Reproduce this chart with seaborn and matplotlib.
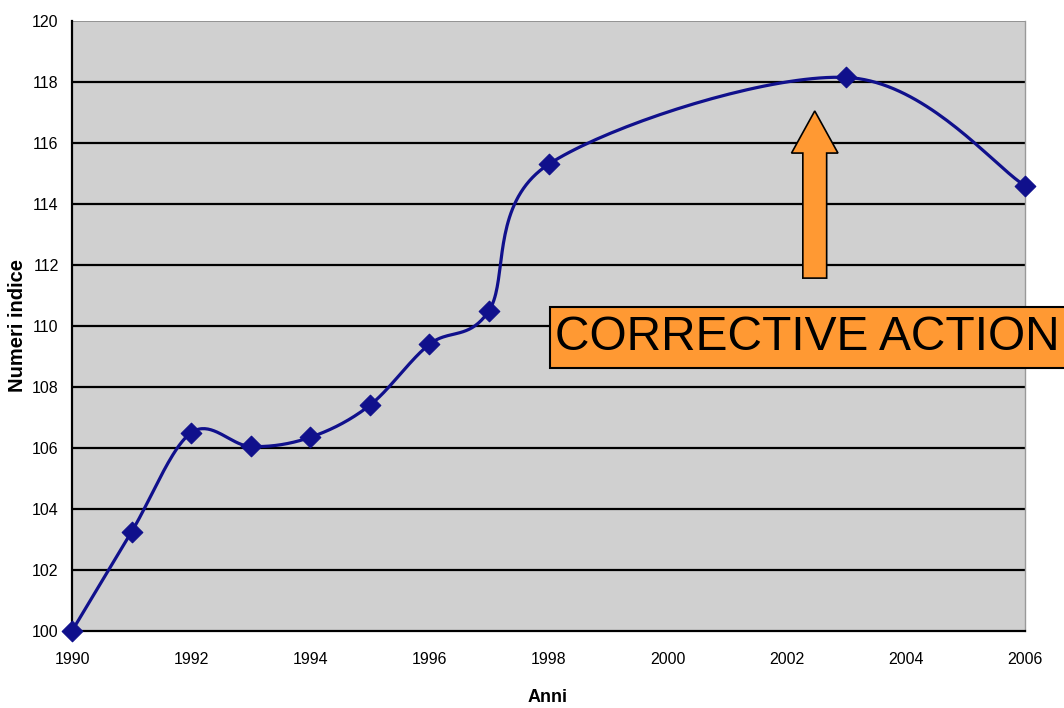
import numpy as np
import pandas as pd
import matplotlib
matplotlib.use('Agg')
import matplotlib.pyplot as plt
import matplotlib.patches as patches
import seaborn as sns

# Data
anni = [1990, 1991, 1992, 1993, 1994, 1995, 1996, 1997, 1998, 2003, 2006]
indice = [100.0, 103.25, 106.5, 106.05, 106.35, 107.4, 109.4, 110.5, 115.3, 118.15, 114.6]
x_ticks = list(range(1990, 2007, 2))
y_ticks = list(range(100, 121, 2))
label_box = "CORRECTIVE ACTION"

line_col = '#10108c'
bg_col = '#d0d0d0'
orange = '#ff9933'


def excel_smooth(xs, ys, n=40):
    """Bezier smoothing through the points, like Excel's smoothed line"""
    p = np.column_stack([xs, ys]).astype(float)
    ext = np.vstack([p[0], p, p[-1]])
    out = []
    for i in range(len(p) - 1):
        p0, p1, p2, p3 = ext[i], ext[i + 1], ext[i + 2], ext[i + 3]
        c1 = p1 + (p2 - p0) / 6
        c2 = p2 - (p3 - p1) / 6
        t = np.linspace(0, 1, n)[:, None]
        seg = ((1 - t) ** 3) * p1 + 3 * ((1 - t) ** 2) * t * c1 + 3 * (1 - t) * t ** 2 * c2 + t ** 3 * p2
        out.append(seg if i == 0 else seg[1:])
    return np.vstack(out)


sns.set_style('white', {'axes.facecolor': bg_col})
plt.rcParams['font.family'] = ['Liberation Sans', 'DejaVu Sans']

fig = plt.figure(figsize=(10.64, 7.08), dpi=100)
ax = fig.add_axes([72 / 1064, 1 - 631 / 708, (1025 - 72) / 1064, (631 - 21) / 708])

smooth = excel_smooth(anni, indice)
curve = pd.DataFrame({'Anni': smooth[:, 0], 'Numeri indice': smooth[:, 1]})
sns.lineplot(data=curve, x='Anni', y='Numeri indice', sort=False, estimator=None,
             color=line_col, linewidth=2.3, ax=ax, zorder=3)
sns.scatterplot(x=anni, y=indice, marker='D', s=110, color=line_col,
                edgecolor=line_col, ax=ax, zorder=4, clip_on=False)

ax.set_xlim(1990, 2006)
ax.set_ylim(100, 120)
ax.set_xticks(x_ticks)
ax.set_yticks(y_ticks)
ax.tick_params(axis='both', labelsize=11.5, width=1.2, color='black', labelcolor='black', direction='out')
ax.tick_params(axis='x', length=6, pad=9)
ax.tick_params(axis='y', length=3.6, pad=6)
for yv in y_ticks[1:-1]:
    ax.axhline(yv, color='black', linewidth=1.6, zorder=1)
ax.axhline(120, color='#888888', linewidth=1.2, zorder=1)

for side in ['left', 'bottom']:
    ax.spines[side].set_color('black')
    ax.spines[side].set_linewidth(1.6)
ax.spines['top'].set_visible(False)
ax.spines['right'].set_color('#999999')
ax.spines['right'].set_linewidth(1.0)

ax.set_xlabel('Anni', fontsize=13, fontweight='bold', color='black')
ax.set_ylabel('Numeri indice', fontsize=14.5, fontweight='bold', color='black')
ax.xaxis.set_label_coords(548 / 1064, 1 - 697 / 708, transform=fig.transFigure)
ax.yaxis.set_label_coords(18 / 1064, 1 - 326 / 708, transform=fig.transFigure)
ax.xaxis.label.set_va('center')
ax.yaxis.label.set_va('center')

# orange arrow pointing at the 2003 peak
arrow = patches.FancyArrow(2002.47, 111.57, 0, 117.05 - 111.57, width=0.40, head_width=0.78,
                           head_length=1.38, length_includes_head=True,
                           facecolor=orange, edgecolor='black', linewidth=1.2, zorder=5)
ax.add_patch(arrow)

# label box, runs off the right edge like the original
box = patches.Rectangle((550 / 1064, 1 - 368 / 708), 560 / 1064, 61 / 708, transform=fig.transFigure,
                        facecolor=orange, edgecolor='black', linewidth=1.5, zorder=6, clip_on=False)
fig.patches.append(box)
fig.text(555 / 1064, 1 - 338 / 708, label_box, fontsize=34.5, va='center', ha='left',
         color='black', zorder=7)

plt.savefig('out.png', dpi=100)
plt.close()
